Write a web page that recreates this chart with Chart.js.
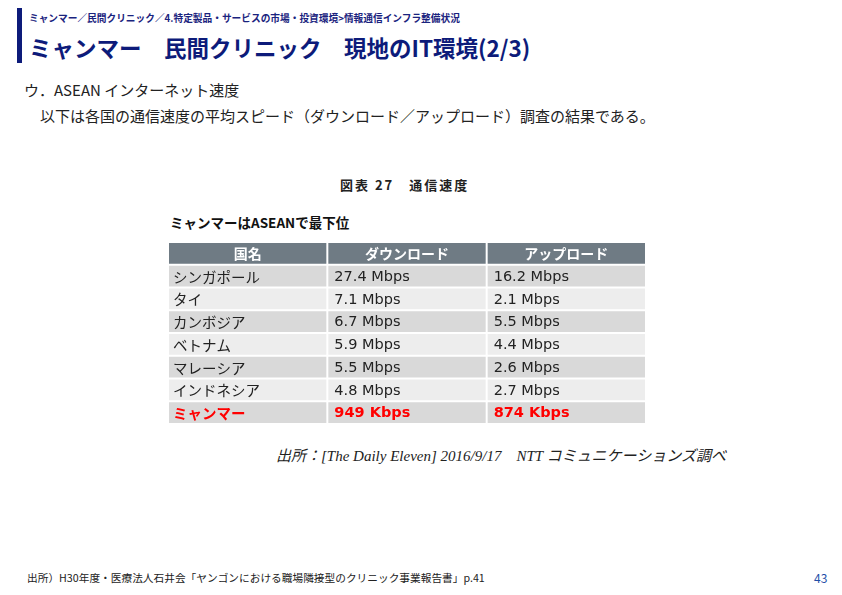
<!DOCTYPE html>
<html>
<head>
<meta charset="utf-8">
<script src="https://cdn.jsdelivr.net/npm/chart.js@4"></script>
<style>
  body { margin: 0; width: 842px; height: 595px; background: #fff; position: relative; overflow: hidden;
         font-family: "Noto Sans CJK JP", sans-serif; color: #222; }
  .abs { position: absolute; white-space: nowrap; }
  #bar { left: 17px; top: 8px; width: 5px; height: 55px; background: #0d1b7a; }
  #crumb { left: 29px; top: 11px; font-size: 9.7px; font-weight: bold; color: #1a237e; }
  #title { left: 29px; top: 31px; font-size: 22.5px; font-weight: bold; color: #0d1b7a; }
  #sub { left: 24px; top: 79px; font-size: 15px; }
  #lead { left: 40px; top: 105px; font-size: 15px; }
  #cap { left: 340px; top: 175px; font-size: 13px; font-weight: bold; letter-spacing: 2px; }
  #note { left: 170px; top: 212px; font-size: 13.5px; font-weight: bold; color: #111; }
  #src { left: 276px; top: 444px; font-size: 15px; font-style: italic; font-family: "Liberation Serif", "Noto Sans CJK JP", serif; }
  #foot { left: 27px; top: 570px; font-size: 10.7px; }
  #page { left: 814px; top: 569px; font-size: 12px; color: #1f4fa8; }
  #wrap { left: 169px; top: 243px; width: 478px; height: 182px; }
</style>
</head>
<body>
<div class="abs" id="bar"></div>
<div class="abs" id="crumb">ミャンマー／民間クリニック／4.特定製品・サービスの市場・投資環境&gt;情報通信インフラ整備状況</div>
<div class="abs" id="title">ミャンマー　民間クリニック　現地のIT環境(2/3)</div>
<div class="abs" id="sub">ウ．ASEAN インターネット速度</div>
<div class="abs" id="lead">以下は各国の通信速度の平均スピード（ダウンロード／アップロード）調査の結果である。</div>
<div class="abs" id="cap">図表 27　通信速度</div>
<div class="abs" id="note">ミャンマーはASEANで最下位</div>
<div class="abs" id="wrap"><canvas id="tbl"></canvas></div>
<div class="abs" id="src">出所：[The Daily Eleven] 2016/9/17　NTT コミュニケーションズ調べ</div>
<div class="abs" id="foot">出所）H30年度・医療法人石井会「ヤンゴンにおける職場隣接型のクリニック事業報告書」p.41</div>
<div class="abs" id="page">43</div>
<script>
const columns = ['国名', 'ダウンロード', 'アップロード'];
const countries = ['シンガポール', 'タイ', 'カンボジア', 'ベトナム', 'マレーシア', 'インドネシア', 'ミャンマー'];
const download = ['27.4 Mbps', '7.1 Mbps', '6.7 Mbps', '5.9 Mbps', '5.5 Mbps', '4.8 Mbps', '949 Kbps'];
const upload = ['16.2 Mbps', '2.1 Mbps', '5.5 Mbps', '4.4 Mbps', '2.6 Mbps', '2.7 Mbps', '874 Kbps'];
const highlight = 'ミャンマー';

const rows = ['header', ...countries];

// draws every cell at the category band positions
const tablePlugin = {
    id: 'tablePlugin',
    afterDraw(chart) {
        const ctx = chart.ctx;
        const xs = chart.scales.x, ys = chart.scales.y;
        const bw = xs.width / columns.length, bh = ys.height / rows.length;
        rows.forEach((row, r) => {
            const cy = ys.getPixelForValue(r);
            columns.forEach((col, c) => {
                const cx = xs.getPixelForValue(c);
                const isHead = r === 0;
                ctx.fillStyle = isHead ? '#6f7b84' : (r % 2 === 1 ? '#d9d9d9' : '#ededed');
                ctx.fillRect(cx - bw / 2, cy - bh / 2, bw - 2, bh - 2);
                let text, font, colour = '#222', align = 'left';
                if (isHead) {
                    text = col; font = 'bold 14px "Noto Sans CJK JP"'; colour = '#fff'; align = 'center';
                } else {
                    const i = r - 1;
                    const red = countries[i] === highlight;
                    text = [countries[i], download[i], upload[i]][c];
                    font = (red ? 'bold ' : '') + (c === 0 ? '14.5px "Noto Sans CJK JP"' : '14.5px "DejaVu Sans"');
                    if (red) colour = '#ff0000';
                }
                ctx.font = font;
                ctx.fillStyle = colour;
                ctx.textAlign = align;
                ctx.textBaseline = 'middle';
                const tx = align === 'center' ? cx - 1 : cx - bw / 2 + (c === 0 ? 4 : 6);
                ctx.fillText(text, tx, cy - 1 + (isHead ? 0 : 1));
            });
        });
    }
};

new Chart(document.getElementById('tbl'), {
    type: 'bar',
    data: { labels: columns, datasets: [] },
    options: {
        responsive: true,
        maintainAspectRatio: false,
        animation: false,
        layout: { padding: 0 },
        scales: {
            x: { type: 'category', labels: columns, offset: true, display: false },
            y: { type: 'category', labels: rows, offset: true, display: false }
        },
        plugins: { legend: { display: false }, tooltip: { enabled: false } }
    },
    plugins: [tablePlugin]
});
</script>
</body>
</html>
